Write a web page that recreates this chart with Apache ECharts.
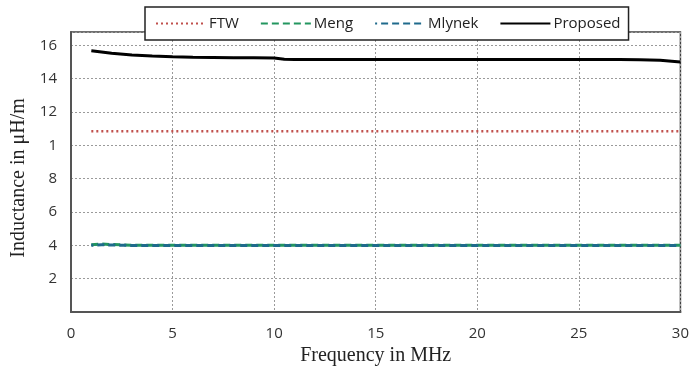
<!DOCTYPE html>
<html>
<head>
<meta charset="utf-8">
<script src="https://cdn.jsdelivr.net/npm/echarts@6/dist/echarts.min.js"></script>
<style>html,body{margin:0;padding:0;background:#fff}#c{width:692px;height:371px}</style>
</head>
<body>
<div id="c"></div>
<script>
var freq = [1, 1.5, 2, 3, 4, 5, 6, 7, 8, 9, 10, 10.5, 11, 12, 13, 14, 15, 16, 17, 18, 19, 20, 21, 22, 23, 24, 25, 26, 27, 28, 29, 30];
var ftw = [10.85, 10.85, 10.85, 10.85, 10.85, 10.85, 10.85, 10.85, 10.85, 10.85, 10.85, 10.85, 10.85, 10.85, 10.85, 10.85, 10.85, 10.85, 10.85, 10.85, 10.85, 10.85, 10.85, 10.85, 10.85, 10.85, 10.85, 10.85, 10.85, 10.85, 10.85, 10.85];
var meng = [4.03, 4.08, 4.05, 4.0, 4.0, 4.0, 4.0, 4.0, 4.0, 4.0, 4.0, 4.0, 4.0, 4.0, 4.0, 4.0, 4.0, 4.0, 4.0, 4.0, 4.0, 4.0, 4.0, 4.0, 4.0, 4.0, 4.0, 4.0, 4.0, 4.0, 4.0, 4.0];
var mlynek = [4.0, 4.04, 4.02, 3.99, 3.99, 3.99, 3.99, 3.99, 3.99, 3.99, 3.99, 3.99, 3.99, 3.99, 3.99, 3.99, 3.99, 3.99, 3.99, 3.99, 3.99, 3.99, 3.99, 3.99, 3.99, 3.99, 3.99, 3.99, 3.99, 3.99, 3.99, 3.99];
var proposed = [15.68, 15.6, 15.52, 15.42, 15.36, 15.31, 15.28, 15.27, 15.26, 15.25, 15.24, 15.16, 15.15, 15.15, 15.15, 15.15, 15.15, 15.15, 15.15, 15.15, 15.15, 15.15, 15.15, 15.15, 15.15, 15.15, 15.15, 15.15, 15.15, 15.14, 15.11, 15.0];
var seriesNames = ['FTW', 'Meng', 'Mlynek', 'Proposed'];
var xTickLabels = {0: '0', 5: '5', 10: '10', 15: '15', 20: '20', 25: '25', 30: '30'};
var yTickLabels = {0: '', 2: '2', 4: '4', 6: '6', 8: '8', 10: '1', 12: '12', 14: '14', 16: '16'};

function pairs(ys) { return freq.map(function (f, i) { return [f, ys[i]]; }); }

var chart = echarts.init(document.getElementById('c'), null, {renderer: 'canvas'});
var gridLine = {show: true, lineStyle: {color: '#9a9a9a', type: [2, 2], width: 1}};
var tickFont = {fontFamily: 'Open Sans, Liberation Sans, sans-serif', fontSize: 15, color: '#333'};
chart.setOption({
  animation: false,
  backgroundColor: '#fff',
  grid: {left: 71, right: 10, top: 32, bottom: 59, show: true, borderColor: '#404040', borderWidth: 1.5, backgroundColor: 'transparent'},
  legend: {
    data: seriesNames,
    left: 145, top: 7,
    itemWidth: 50, itemHeight: 10, itemGap: 21,
    padding: [9, 8, 9, 10],
    backgroundColor: '#fff',
    borderColor: '#222', borderWidth: 1.5,
    itemStyle: {opacity: 0},
    textStyle: {fontFamily: 'Open Sans, Liberation Sans, sans-serif', fontSize: 15, color: '#222', padding: [0, 0, 0, -2]}
  },
  xAxis: {
    type: 'value', min: 0, max: 30, interval: 5,
    name: 'Frequency in MHz', nameLocation: 'middle', nameGap: 29,
    nameTextStyle: {fontFamily: 'Liberation Serif, Times New Roman, serif', fontSize: 20, color: '#222'},
    axisLine: {show: true, onZero: false, lineStyle: {color: '#555', width: 2}},
    axisTick: {show: false},
    axisLabel: Object.assign({margin: 14, formatter: function (v) { return xTickLabels[v] !== undefined ? xTickLabels[v] : ''; }}, tickFont),
    splitLine: gridLine
  },
  yAxis: {
    type: 'value', min: 0, max: 16.8, interval: 2,
    name: 'Inductance in μH/m', nameLocation: 'middle', nameGap: 41,
    nameTextStyle: {fontFamily: 'Liberation Serif, Times New Roman, serif', fontSize: 20, color: '#222', padding: [0, 12, 0, 0]},
    axisLine: {show: true, lineStyle: {color: '#555', width: 2}},
    axisTick: {show: false},
    axisLabel: Object.assign({margin: 14, showMaxLabel: false, formatter: function (v) { return yTickLabels[v] !== undefined ? yTickLabels[v] : ''; }}, tickFont),
    splitLine: gridLine
  },
  series: [
    {name: 'FTW', type: 'line', data: pairs(ftw), symbol: 'none', lineStyle: {color: '#c0504d', width: 2.5, type: [2, 3]}, itemStyle: {color: '#c0504d'}},
    {name: 'Meng', type: 'line', data: pairs(meng), symbol: 'none', lineStyle: {color: '#23965f', width: 3, type: [7, 4]}, itemStyle: {color: '#23965f'}},
    {name: 'Mlynek', type: 'line', data: pairs(mlynek), symbol: 'none', lineStyle: {color: '#1f6a8c', width: 3, type: [7, 4], dashOffset: 5}, itemStyle: {color: '#1f6a8c'}},
    {name: 'Proposed', type: 'line', data: pairs(proposed), symbol: 'none', lineStyle: {color: '#000', width: 3}, itemStyle: {color: '#000'}}
  ]
});
</script>
</body>
</html>
